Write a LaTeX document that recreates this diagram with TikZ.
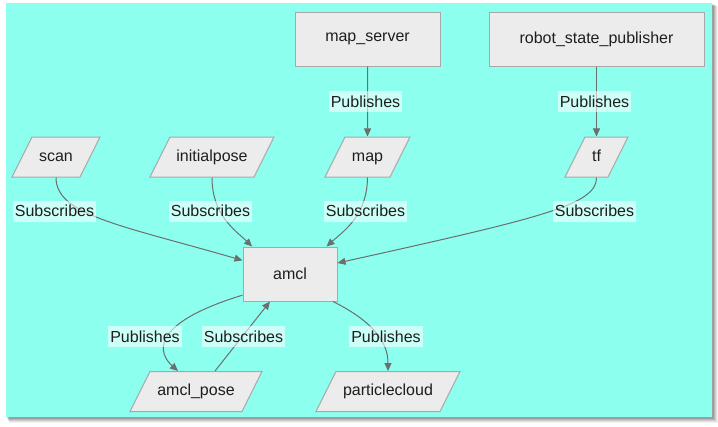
\documentclass[tikz,border=0pt]{standalone}
\usepackage{fontspec}
\setmainfont{Liberation Sans}
\usetikzlibrary{shapes.geometric,arrows.meta}
\definecolor{bgc}{RGB}{140,255,238}
\definecolor{nodefill}{RGB}{236,236,236}
\definecolor{nodeline}{RGB}{168,168,168}
\definecolor{edgec}{RGB}{110,110,110}
\definecolor{txt}{RGB}{30,30,30}
\tikzset{
  every node/.style={font=\fontsize{16}{19}\selectfont, text=txt},
  procbox/.style={draw=nodeline, fill=nodefill, line width=1pt, rectangle, minimum height=54pt, inner sep=0pt},
  topicbox/.style={draw=nodeline, fill=nodefill, line width=1pt, trapezium, trapezium left angle=63.43, trapezium right angle=116.57, trapezium stretches body, text height=12pt, text depth=4pt, inner ysep=12pt, inner xsep=0pt, minimum height=40pt},
  conn/.style={draw=edgec, line width=1pt, -{Triangle[length=8pt,width=7pt]}},
  lbl/.style={fill=white, fill opacity=0.55, text opacity=1, inner xsep=2pt, inner ysep=0pt, minimum height=21pt}
}
\begin{document}
\begin{tikzpicture}[x=1pt,y=-1pt]
\useasboundingbox (0,0) rectangle (718,426);
% shadow
\foreach \d/\o in {6/0.05,5/0.07,4/0.09,3/0.11,2/0.13}{
  \fill[black, opacity=\o] (6+\d*0.5,3+\d*0.5) rectangle (712+\d,417+\d);
}
\fill[bgc] (6,3) rectangle (712,417);

% process nodes
\node[procbox, minimum width=145pt] (ms) at (367.5,39) {map\_server};
\node[procbox, minimum width=215pt] (rsp) at (596.5,39) {robot\_state\_publisher};
\node[procbox, minimum width=94pt] (amcl) at (290,274) {amcl};

% topics
\node[topicbox, minimum width=88pt] (scan) at (56,157) {scan};
\node[topicbox, minimum width=124pt] (ip) at (212,157) {initialpose};
\node[topicbox, minimum width=85pt] (map) at (367.5,157) {map};
\node[topicbox, minimum width=63pt] (tf) at (596.5,157) {tf};
\node[topicbox, minimum width=132pt] (pose) at (196,391.5) {amcl\_pose};
\node[topicbox, minimum width=144pt] (pc) at (388,391.5) {particlecloud};

% connectors
\draw[conn] (ms.south) -- (map.north);
\draw[conn] (rsp.south) -- (tf.north);
\draw[conn] (scan.south) .. controls (56,215) and (120,225) .. (amcl.164.5);
\draw[conn] (ip.south) .. controls (212,215) and (235,230) .. (amcl.144);
\draw[conn] (map.south) .. controls (367,215) and (345,230) .. (amcl.37.6);
\draw[conn] (tf.south) .. controls (597,205) and (540,218) .. (amcl.13);
\draw[conn] (amcl.204) .. controls (145,325) and (160,355) .. ([xshift=-18pt]pose.north);
\draw[conn] ([xshift=19pt]pose.north) -- ([xshift=-20pt]amcl.south);
\draw[conn] ([xshift=43pt]amcl.south) .. controls (370,320) and (388,340) .. (pc.north);

% labels
\node[lbl] (l1) at (365.5,101.5) {Publishes};
\node[lbl] (l2) at (594.5,101.5) {Publishes};
\node[lbl] (l3) at (54.5,211) {Subscribes};
\node[lbl] (l4) at (210.5,211) {Subscribes};
\node[lbl] (l5) at (365.5,211) {Subscribes};
\node[lbl] (l6) at (594.5,211) {Subscribes};
\node[lbl] (l7) at (145,336.5) {Publishes};
\node[lbl] (l8) at (243.5,336.5) {Subscribes};
\node[lbl] (l9) at (386,336.5) {Publishes};
\end{tikzpicture}
\end{document}
